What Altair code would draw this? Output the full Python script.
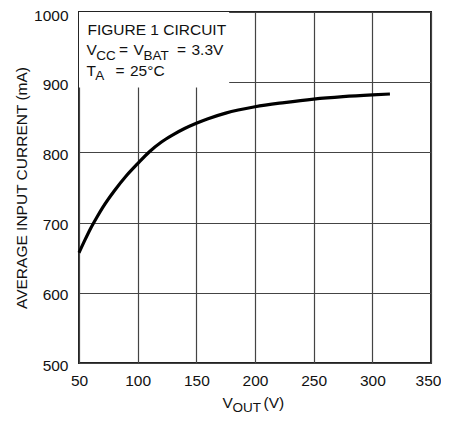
import altair as alt
import pandas as pd

FONT = "Liberation Sans, Arial, Helvetica, sans-serif"

# curve
vout = [50, 55, 60, 65, 70, 80, 90, 100, 110, 120, 130, 140, 150, 160, 175, 200, 225, 250, 275, 300, 315]
iin = [657, 675, 692, 707, 721, 745, 766, 784, 801, 814.5, 825, 834, 841.5, 848, 856, 865, 871, 876, 879.5, 882, 883.2]

x_ticks = [50, 100, 150, 200, 250, 300, 350]
y_ticks = [500, 600, 700, 800, 900, 1000]
x_domain = [50, 350]
y_domain = [500, 1000]

y_title = "AVERAGE INPUT CURRENT (mA)"

# annotation box extent (data units)
box_x = [50, 178]
box_y = [892.5, 1000]

df = pd.DataFrame({"x": vout, "y": iin})

xs = alt.Scale(domain=x_domain, nice=False, zero=False)
ys = alt.Scale(domain=y_domain, nice=False, zero=False)

x_axis = alt.Axis(values=x_ticks, grid=True, gridColor="#444", gridWidth=1.2, format="d",
                  domain=False, ticks=False, labelPadding=10, labelFontSize=15.5,
                  labelFont=FONT, labelColor="#111", labelFlush=False,
                  labelOffset=alt.condition("datum.value == 350", alt.value(-3), alt.value(0)),
                  title=None)
y_axis = alt.Axis(values=y_ticks, grid=True, gridColor="#444", gridWidth=1.2, format="d",
                  domain=False, ticks=False, labelPadding=11, labelFontSize=15.5,
                  labelFont=FONT, labelColor="#111", labelFlush=False,
                  labelOffset=alt.condition("datum.value == 1000", alt.value(3.5), alt.value(2)),
                  title=y_title, titleFont=FONT, titleFontSize=15.5,
                  titleFontWeight="normal", titleColor="#111",
                  titleX=-53, titleY=175.5, titleAngle=-90,
                  titleAlign="center", titleBaseline="alphabetic")

curve = alt.Chart(df).mark_line(color="black", strokeWidth=3.2, interpolate="monotone").encode(
    x=alt.X("x:Q", scale=xs, axis=x_axis),
    y=alt.Y("y:Q", scale=ys, axis=y_axis),
)

box = alt.Chart(pd.DataFrame({"x": [box_x[0]], "x2": [box_x[1]], "y": [box_y[0]], "y2": [box_y[1]]})).mark_rect(
    color="white").encode(
    x=alt.X("x:Q", scale=xs), x2="x2:Q",
    y=alt.Y("y:Q", scale=ys), y2="y2:Q",
)


def piece(text, x, y, dx, dy, size):
    return alt.Chart(pd.DataFrame({"x": [x], "y": [y], "t": [text]})).mark_text(
        align="left", baseline="alphabetic", dx=dx, dy=dy, fontSize=size,
        font=FONT, color="#111").encode(
        x=alt.X("x:Q", scale=xs), y=alt.Y("y:Q", scale=ys), text="t:N")


MAIN = 15.5
SUB = 13.5
SH = 4.5
L1, L2, L3 = 22.5, 43.3, 63.5
ann = [
    # text, dx, dy, size
    ("FIGURE 1 CIRCUIT", 8.5, L1, MAIN),
    ("V", 7.5, L2, MAIN),
    ("CC", 17.2, L2 + SH, SUB),
    ("=", 40, L2, MAIN),
    ("V", 54.5, L2, MAIN),
    ("BAT", 64.5, L2 + SH, SUB),
    ("=", 98, L2, MAIN),
    ("3.3V", 112.5, L2, MAIN),
    ("T", 7.5, L3, MAIN),
    ("A", 16.2, L3 + SH, SUB),
    ("=", 36.5, L3, MAIN),
    ("25°C", 51, L3, MAIN),
]
layers = [box, curve]
for t, dx, dy, s in ann:
    layers.append(piece(t, x_domain[0], y_domain[1], dx, dy, s))

# x axis title with subscript: V_OUT (V)
XT = 44.5
xt = [("V", -32.5, XT, MAIN), ("OUT", -22.5, XT + 4, SUB), ("(V)", 8.5, XT, MAIN)]
for t, dx, dy, s in xt:
    layers.append(piece(t, 200, y_domain[0], dx, dy, s))

chart = alt.layer(*layers).properties(
    width=352, height=351, autosize="none",
    padding={"left": 71, "top": 4, "right": 10, "bottom": 50},
).configure_view(stroke="#222", strokeWidth=2)

chart.save("out.html", embed_options={"renderer": "svg", "actions": False})
